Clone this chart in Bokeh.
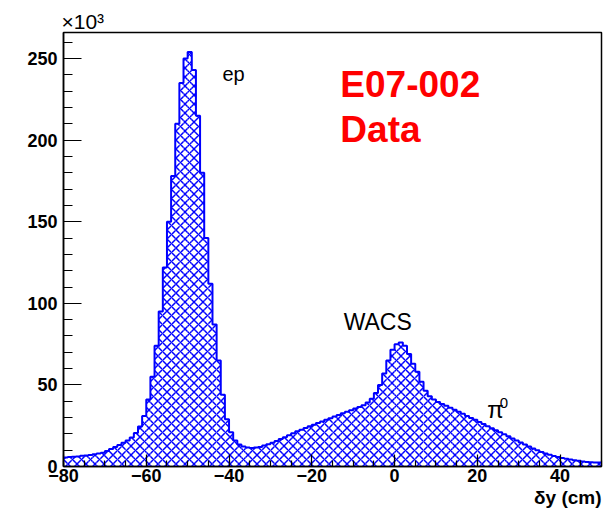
import numpy as np
from bokeh.plotting import figure
from bokeh.models import FixedTicker, Label, ColumnDataSource, Title
from bokeh.embed import file_html
from bokeh.resources import INLINE

# histogram: delta-y (cm), 1 cm bins from -80 to 50; counts in units of 10^3
bin_lo = -80.0
bin_hi = 50.0
counts_k = [
    5.5, 5.8, 6.0, 6.2, 6.6, 6.8, 7.0, 7.5, 8.0, 8.5,
    9.5, 10.8, 12.0, 13.2, 14.5, 16.0, 17.8, 20.5, 24.5, 31.0,
    41.0, 55.0, 74.0, 95.0, 122.0, 150.0, 178.0, 210.0, 235.0, 250.0,
    254.0, 243.0, 215.0, 180.0, 140.0, 112.0, 87.0, 65.0, 44.0, 29.0,
    21.0, 16.0, 13.5, 12.2, 11.6, 11.4, 11.6, 12.0, 12.8, 13.6,
    14.6, 15.6, 16.8, 18.0, 19.2, 20.4, 21.6, 22.6, 23.6, 24.6,
    25.6, 26.6, 27.6, 28.6, 29.6, 30.6, 31.6, 32.6, 33.5, 34.5,
    35.5, 36.5, 37.6, 39.2, 41.5, 45.0, 50.0, 57.0, 65.0, 71.5,
    75.0, 76.0, 74.0, 69.0, 63.0, 58.0, 52.0, 46.5, 43.0, 41.0,
    39.5, 38.3, 37.2, 36.0, 34.8, 33.5, 32.3, 31.0, 29.8, 28.6,
    27.3, 26.0, 24.7, 23.4, 22.2, 21.0, 19.7, 18.5, 17.2, 16.0,
    14.7, 13.5, 12.2, 11.0, 9.9, 8.9, 8.0, 7.2, 6.4, 5.8,
    5.2, 4.7, 4.3, 3.9, 3.5, 3.1, 2.8, 2.6, 2.5, 2.5,
]
x_ticks = [-80, -60, -40, -20, 0, 20, 40]
x_minor = [float(v) for v in range(-80, 51, 5)]
y_ticks = [0, 50, 100, 150, 200, 250]
y_minor = [float(v) for v in range(0, 261, 10)]

counts = np.array(counts_k)
edges = np.linspace(bin_lo, bin_hi, len(counts) + 1)
src = ColumnDataSource(dict(left=edges[:-1], right=edges[1:], top=counts,
                            bottom=np.zeros_like(counts)))

p = figure(width=613, height=512, x_range=(bin_lo, bin_hi), y_range=(0, 266),
           output_backend="svg", toolbar_location=None,
           min_border_left=63, min_border_right=12, min_border_top=32, min_border_bottom=46)
p.grid.visible = False
p.outline_line_color = "black"
p.outline_line_width = 1.5
p.background_fill_color = "white"
p.border_fill_color = "white"

font = "Liberation Sans"

p.add_layout(Title(text="×10³", align="left", text_font=font, text_font_size="21px",
                   text_font_style="normal", text_color="black", offset=-2, standoff=0), "above")
p.add_layout(Title(text="δy (cm)", align="right", text_font=font, text_font_size="19px",
                   text_font_style="bold", text_color="black", standoff=0), "below")

p.quad(left="left", right="right", top="top", bottom="bottom", source=src,
       fill_alpha=0, line_alpha=0, hatch_pattern="diagonal_cross",
       hatch_color="#0000ff", hatch_scale=9, hatch_weight=1.5)
xs = np.append(edges[:-1], edges[-1])
ys = np.append(counts, counts[-1])
p.step(xs, ys, mode="after", line_color="#0000ff", line_width=2)

for ax in (p.xaxis[0], p.yaxis[0]):
    ax.axis_line_color = "black"
    ax.axis_line_width = 1.5
    ax.major_tick_out = 0
    ax.minor_tick_out = 0
    ax.major_tick_line_color = "black"
    ax.minor_tick_line_color = "black"
    ax.major_tick_line_width = 1.2
    ax.minor_tick_line_width = 1.2
    ax.major_label_text_font = font
    ax.major_label_text_font_style = "bold"
    ax.major_label_text_font_size = "18px"
    ax.major_label_text_color = "black"

p.xaxis.ticker = FixedTicker(ticks=x_ticks, minor_ticks=x_minor)
p.yaxis.ticker = FixedTicker(ticks=y_ticks, minor_ticks=y_minor)
p.xaxis.major_tick_in = 12
p.xaxis.minor_tick_in = 6
p.yaxis.major_tick_in = 18
p.yaxis.minor_tick_in = 9
p.xaxis.major_label_standoff = 2
p.yaxis.major_label_standoff = 6

def lab(x, y, text, size, color="black", style="normal", align="left"):
    p.add_layout(Label(x=x, y=y, text=text, text_font=font, text_font_size=size,
                       text_color=color, text_font_style=style, text_align=align,
                       text_baseline="alphabetic"))

lab(-41.6, 240.8, "ep", "20px")
lab(-12.3, 88.8, "WACS", "23px")
lab(22.4, 34.8, "π", "24px")
lab(25.4, 39.0, "0", "15px")
lab(-13.1, 234.0, "E07-002", "37px", color="#ff0000", style="bold")
lab(-13.1, 206.5, "Data", "37px", color="#ff0000", style="bold")

open("out.html", "w").write(file_html(p, INLINE))
